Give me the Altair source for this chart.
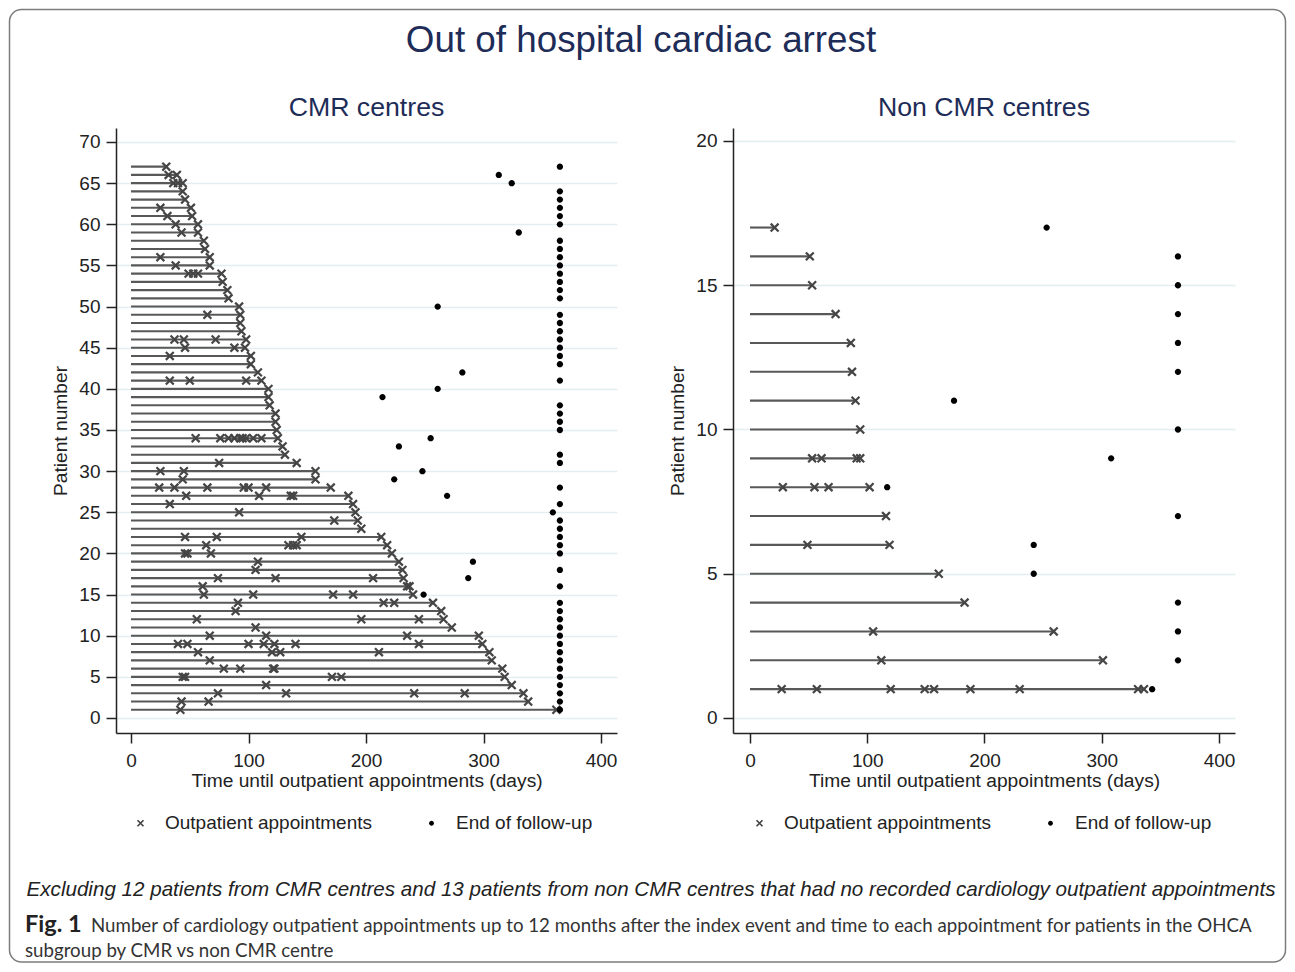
import altair as alt
import pandas as pd

# ---------------- text ----------------
MAIN_TITLE = "Out of hospital cardiac arrest"
PANEL_TITLES = ["CMR centres", "Non CMR centres"]
X_TITLE = "Time until outpatient appointments (days)"
Y_TITLE = "Patient number"
KINDS = ["Outpatient appointments", "End of follow-up"]
NOTE = ("Excluding 12 patients from CMR centres and 13 patients from non CMR centres "
        "that had no recorded cardiology outpatient appointments")
FIG_LABEL = "Fig. 1"
FIG_CAPTION = [
    "Number of cardiology outpatient appointments up to 12 months after the index event "
    "and time to each appointment for patients in the OHCA",
    "subgroup by CMR vs non CMR centre",
]

# ---------------- ticks ----------------
X_TICKS = [0, 100, 200, 300, 400]
CMR_Y_TICKS = [0, 5, 10, 15, 20, 25, 30, 35, 40, 45, 50, 55, 60, 65, 70]
NON_CMR_Y_TICKS = [0, 5, 10, 15, 20]

# ---------------- data (days), patient 1 first ----------------
CMR_APPOINTMENTS = [
    [42, 362], [43, 66, 338], [74, 132, 241, 284, 334], [115, 324],
    [44, 46, 171, 179, 318], [79, 93, 121, 122, 316], [67, 307],
    [57, 120, 127, 211, 305], [40, 48, 100, 113, 122, 140, 245, 299],
    [67, 115, 235, 296], [106, 273], [56, 196, 245, 266], [89, 264],
    [91, 215, 224, 257], [62, 104, 172, 189, 240], [61, 235, 237],
    [74, 123, 206, 232], [106, 231], [108, 228], [46, 48, 68, 222],
    [64, 134, 138, 141, 218], [46, 73, 145, 213], [196], [173, 193],
    [92, 191], [33, 189], [47, 109, 136, 138, 185],
    [24, 37, 65, 96, 100, 115, 170], [44, 157], [25, 45, 157], [75, 141],
    [131], [129], [55, 76, 83, 88, 93, 95, 98, 104, 111, 125], [124],
    [123], [123], [118], [117], [117], [33, 50, 98, 111], [108], [102],
    [33, 102], [46, 88, 97], [37, 45, 72, 98], [94], [93], [65, 93], [92],
    [83], [82], [78], [49, 53, 57, 77], [38, 67], [25, 67], [63], [62],
    [43, 57], [38, 57], [31, 52], [25, 51], [46], [44], [36, 40, 44],
    [32, 39], [30],
]
CMR_END = [
    365, 365, 365, 365, 365, 365, 365, 365, 365, 365,
    365, 365, 365, 365, 249, 365, 287, 365, 291, 365,
    365, 365, 365, 365, 359, 365, 269, 365, 224, 248,
    365, 365, 228, 255, 365, 365, 365, 365, 214, 261,
    365, 282, 365, 365, 365, 365, 365, 365, 365, 261,
    365, 365, 365, 365, 365, 365, 365, 365, 330, 365,
    365, 365, 365, 365, 324, 313, 365,
]
NON_CMR_APPOINTMENTS = [
    [27, 57, 120, 149, 157, 188, 230, 331, 336], [112, 301], [105, 259],
    [183], [161], [49, 119], [116], [28, 55, 67, 102], [53, 61, 91, 94],
    [94], [90], [87], [86], [73], [53], [51], [21],
]
NON_CMR_END = [343, 365, 365, 365, 242, 242, 365, 117, 308, 365, 174, 365, 365,
               365, 365, 365, 253]

# ---------------- styling ----------------
FONT = "Liberation Sans"
NAVY = "#1e2c58"
INK = "#222222"
X_PATH = ("M-0.8,-1.2L1.2,0.8L0.8,1.2L-1.2,-0.8Z"
          "M-0.8,1.2L-1.2,0.8L0.8,-1.2L1.2,-0.8Z")
DOT_PATH = "M0.8,0A0.8,0.8,0,1,1,-0.8,0A0.8,0.8,0,1,1,0.8,0Z"
ONE = pd.DataFrame({"k": [0]})


def text_layer(text, x, y, size, font=FONT, color=INK, align="left", **kw):
    return alt.Chart(ONE).mark_text(text=text, font=font, fontSize=size, color=color,
                                    align=align, baseline="alphabetic", **kw).encode(
        x=alt.value(x), y=alt.value(y))


def frames(appts, ends):
    segs, pts = [], []
    for i, (days, end) in enumerate(zip(appts, ends), start=1):
        segs.append({"patient": i, "start": 0, "last": max(days)})
        for d in days:
            pts.append({"patient": i, "day": d, "kind": KINDS[0]})
        pts.append({"patient": i, "day": end, "kind": KINDS[1]})
    return pd.DataFrame(segs), pd.DataFrame(pts)


def panel(appts, ends, title, yticks, xdomain, ydomain, width, legend_x, extra):
    segs, pts = frames(appts, ends)
    xscale = alt.Scale(domain=xdomain, nice=False, zero=False)
    yscale = alt.Scale(domain=ydomain, nice=False, zero=False)
    xaxis = alt.Axis(values=X_TICKS, title=X_TITLE, grid=False, labelFlush=False,
                     labelPadding=8, titlePadding=1, tickSize=10)
    yaxis = alt.Axis(values=yticks, title=Y_TITLE, grid=True, labelPadding=6,
                     titlePadding=8, tickSize=10, gridColor="#e4edf0", gridWidth=1.4)
    leg = alt.Legend(orient="none", legendX=legend_x, legendY=685.5, direction="horizontal",
                     title=None, labelFont=FONT, labelFontSize=19, labelColor=INK,
                     labelLimit=400, symbolSize=36, columnPadding=49, labelOffset=15,
                     padding=0, symbolStrokeWidth=0)
    rules = alt.Chart(segs).mark_rule(color="#585858", strokeWidth=2.1).encode(
        x=alt.X("start:Q", scale=xscale, axis=xaxis),
        x2="last:Q",
        y=alt.Y("patient:Q", scale=yscale, axis=yaxis),
    )
    points = alt.Chart(pts).mark_point(filled=True, opacity=1, size=62, strokeWidth=0).encode(
        x=alt.X("day:Q", scale=xscale, axis=xaxis),
        y=alt.Y("patient:Q", scale=yscale, axis=yaxis),
        shape=alt.Shape("kind:N", scale=alt.Scale(domain=KINDS, range=[X_PATH, DOT_PATH]),
                        legend=leg),
        color=alt.Color("kind:N", scale=alt.Scale(domain=KINDS, range=["#454545", "#000000"]),
                        legend=leg),
    )
    head = text_layer(title, width / 2, -12, 26.7, color=NAVY, align="center")
    return alt.layer(rules, points, head, *extra).properties(width=width, height=605)


# decorations drawn from the left panel's origin (main title, caption, frame)
frame_box = alt.Chart(ONE).mark_rect(fillOpacity=0, stroke="#7c7c7c", strokeWidth=1.5,
                                     cornerRadius=12).encode(
    x=alt.value(-106.5), x2=alt.value(1169.5), y=alt.value(-118.5), y2=alt.value(834))
decor = [
    frame_box,
    text_layer(MAIN_TITLE, 525, -75.7, 36.8, color=NAVY, align="center"),
    text_layer(NOTE, 535, 767.5, 20.6, align="center", fontStyle="italic"),
    text_layer(FIG_LABEL, -91, 804, 23.5, font="Lato", fontWeight="bold"),
    text_layer(FIG_CAPTION[0], -25, 804, 18.7, font="Lato", color="#333333"),
    text_layer(FIG_CAPTION[1], -91, 828.5, 18.7, font="Lato", color="#333333"),
]

left = panel(CMR_APPOINTMENTS, CMR_END, PANEL_TITLES[0], CMR_Y_TICKS,
             [-12.77, 413.6], [-1.823, 71.70], 501, 15, decor)
right = panel(NON_CMR_APPOINTMENTS, NON_CMR_END, PANEL_TITLES[1], NON_CMR_Y_TICKS,
              [-14.5, 413.65], [-0.52, 20.45], 502, 17, [])

chart = alt.hconcat(left, right, spacing=116, bounds="flush").resolve_scale(
    x="independent", y="independent", color="independent", shape="independent"
).resolve_legend(color="independent", shape="independent").properties(
    padding=0, background="white"
).configure_view(stroke="transparent").configure_axis(
    labelFont=FONT, labelFontSize=19, labelColor=INK, titleFont=FONT, titleFontSize=19.2,
    titleFontWeight="normal", titleColor=INK, domainColor=INK, domainWidth=1.5,
    tickColor=INK, tickWidth=1.5,
)

chart.save("out.html", embed_options={"renderer": "svg", "actions": False})
